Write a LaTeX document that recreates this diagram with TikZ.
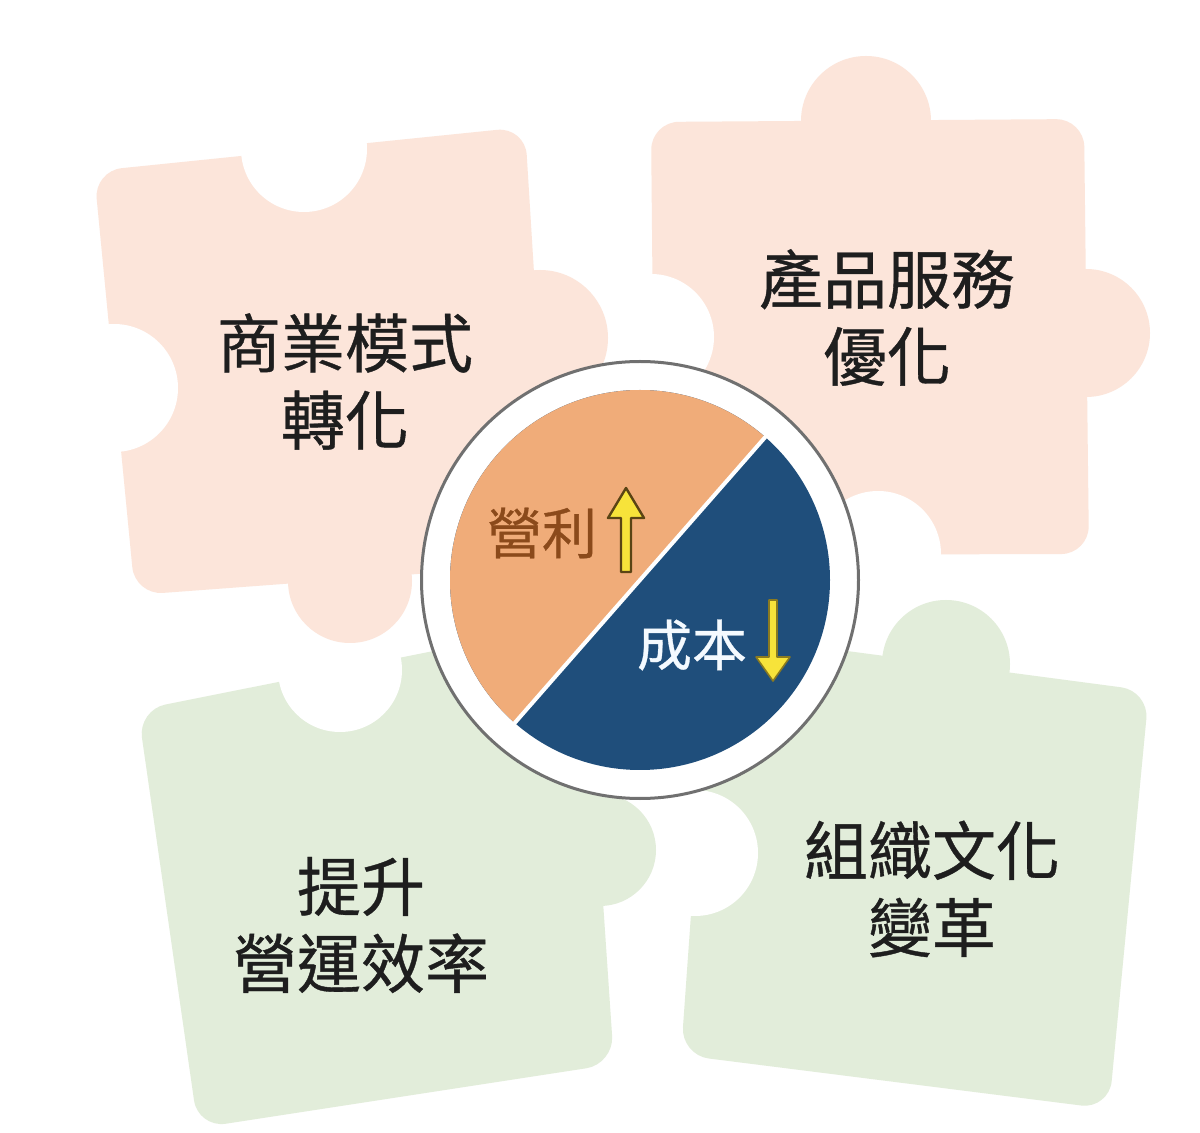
\documentclass[tikz,border=0pt]{standalone}
\usepackage{fontspec}
\newfontfamily\cjk[FakeBold=0.6]{Noto Sans CJK TC}
\definecolor{pinkp}{HTML}{FCE5DA}
\definecolor{greenp}{HTML}{E2EDDA}
\definecolor{orangep}{HTML}{F0AC79}
\definecolor{bluep}{HTML}{1F4E7B}
\definecolor{ringgray}{HTML}{707070}
\definecolor{arrowyellow}{HTML}{F7E33A}
\definecolor{arrowline}{HTML}{5A4414}
\definecolor{arrowline2}{HTML}{8A7A20}
\definecolor{textdark}{HTML}{1E1E1E}
\definecolor{profitbrown}{HTML}{8B4A1B}
\definecolor{costwhite}{HTML}{F4FAFF}
\begin{document}
\begin{tikzpicture}[x=0.5pt,y=-0.5pt,
  piecepink/.style={fill=pinkp, rounded corners=14pt},
  piecegreen/.style={fill=greenp, rounded corners=14pt},
  holecut/.style={fill=white},
  maintext/.style={font=\cjk\fontsize{32}{38.5}\selectfont, align=center, text=textdark, inner sep=0pt},
  pietext/.style={font=\cjk\fontsize{27.5}{32}\selectfont, inner sep=0pt},
  arrowup/.style={fill=arrowyellow, draw=arrowline, line width=1.2pt, line join=round},
  arrowdown/.style={fill=arrowyellow, draw=arrowline2, line width=0.8pt, line join=round}]
\fill[white] (0,0) rectangle (1200,1133);
\useasboundingbox (0,0) rectangle (1200,1133);

% top-right piece
\fill[piecepink] (651,122) -- (1084,119) -- (1089,554) -- (655,555) -- cycle;
\fill[pinkp] (866,121) circle[radius=65];
\fill[pinkp] (1086,333) circle[radius=64];
\fill[holecut] (651,337) circle[radius=63];
\fill[holecut] (878,554) circle[radius=63];

% bottom-right piece
\fill[piecegreen] (711,633) -- (1149,691) -- (1109,1109) -- (681,1055) -- cycle;
\fill[greenp] (946,664) circle[radius=64];
\fill[holecut] (695,853) circle[radius=63];

% bottom-left piece
\fill[piecegreen] (138,710) -- (584,621) -- (614,1064) -- (198,1128) -- cycle;
\fill[greenp] (600,850) circle[radius=56];
\fill[holecut] (340,670) circle[radius=62];

% top-left piece
\fill[piecepink] (94,171) -- (525,127) -- (552,564) -- (135,595) -- cycle;
\fill[pinkp] (540,338) circle[radius=68];
\fill[pinkp] (350,581) circle[radius=62];
\fill[holecut] (304,149) circle[radius=63];
\fill[holecut] (114,388) circle[radius=64];

% centre disc
\fill[white, draw=ringgray, line width=1.5pt] (640,580) circle[radius=218.5];
\fill[bluep] (640,580) circle[radius=190];
\begin{scope}
  \clip (805,392) -- (475,768) -- (249,570) -- (579,194) -- cycle;
  \fill[orangep] (640,580) circle[radius=190];
\end{scope}
\draw[white, line width=2pt] (768.5,433.4) -- (511.5,726.6);

% arrows
\draw[arrowup] (621,572) -- (631,572) -- (631,518) -- (644,518) -- (626,488) -- (608,518) -- (621,518) -- cycle;
\draw[arrowdown] (769,600) -- (777,600) -- (777,657) -- (790,657) -- (773,681) -- (756,657) -- (769,657) -- cycle;

% labels
\node[pietext, text=profitbrown] (profit) at (542,533) {營利};
\node[pietext, text=costwhite] (cost) at (692,645) {成本};

\node[maintext] (bizmodel) at (345,381.5) {商業模式\\轉化};
\node[maintext] (product) at (887,317.5) {產品服務\\優化};
\node[maintext] (efficiency) at (361,925) {提升\\營運效率};
\node[maintext] (culture) at (932,889) {組織文化\\變革};
\end{tikzpicture}
\end{document}
